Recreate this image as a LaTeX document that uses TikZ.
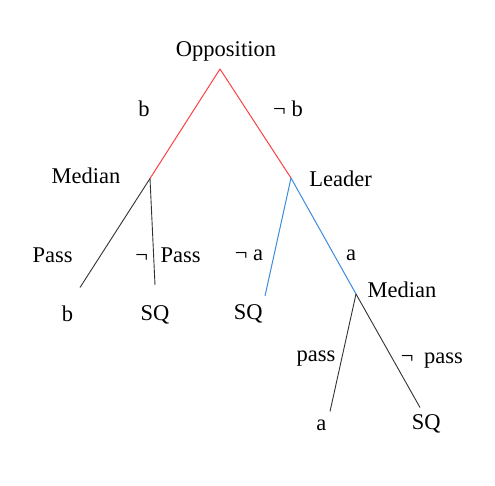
\documentclass[tikz,border=0pt]{standalone}
\usepackage{fontspec}
\setmainfont{Liberation Serif}
\definecolor{edgered}{RGB}{255,64,64}
\definecolor{edgeblue}{RGB}{60,140,220}
\definecolor{edgeblack}{RGB}{50,50,50}
\begin{document}
\begin{tikzpicture}[x=1bp,y=-1bp,
  lbl/.style={anchor=base,inner sep=0pt,font=\fontsize{22.5bp}{27bp}\selectfont},
  redge/.style={draw=edgered,line width=1bp},
  bedge/.style={draw=edgeblue,line width=1bp},
  kedge/.style={draw=edgeblack,line width=0.9bp}]
\useasboundingbox (0,0) rectangle (495,486);
% vertices
\coordinate (root) at (220,69);
\coordinate (med1) at (150,178.5);
\coordinate (lead) at (291,178);
\coordinate (med2) at (356,294);
\coordinate (lb) at (80,287.5);
\coordinate (lsq) at (155,285);
\coordinate (msq) at (265,296);
\coordinate (la) at (330,411.5);
\coordinate (rsq) at (420,407.5);
% edges
\draw[redge] (root) -- (med1);
\draw[redge] (root) -- (lead);
\draw[kedge] (med1) -- (lb);
\draw[kedge] (med1) -- (lsq);
\draw[bedge] (lead) -- (msq);
\draw[bedge] (lead) -- (med2);
\draw[kedge] (med2) -- (la);
\draw[kedge] (med2) -- (rsq);
% player labels
\node[lbl] (tOpp) at (226,57) {Opposition};
\node[lbl] (tMed1) at (86,184) {Median};
\node[lbl] (tLead) at (340.5,186.5) {Leader};
\node[lbl] (tMed2) at (402,297.5) {Median};
% action labels
\node[lbl] (ab) at (144,117) {b};
\node[lbl] (anb) at (288,117) {¬ b};
\node[lbl] (aPass) at (52.7,262.5) {Pass};
\node[lbl] (anPass) at (168,262.5) {¬\hspace{0.55em}Pass};
\node[lbl] (ana) at (249,260.5) {¬ a};
\node[lbl] (aa) at (351,260.5) {a};
\node[lbl] (apass) at (316,361.5) {pass};
\node[lbl] (anpass) at (431.8,363) {¬\hspace{0.47em}pass};
% outcomes
\node[lbl] (oB) at (67.5,321.5) {b};
\node[lbl] (oSQ1) at (155,320) {SQ};
\node[lbl] (oSQ2) at (248.3,319.5) {SQ};
\node[lbl] (oA) at (321.3,430) {a};
\node[lbl] (oSQ3) at (426.3,429.5) {SQ};
\end{tikzpicture}
\end{document}
